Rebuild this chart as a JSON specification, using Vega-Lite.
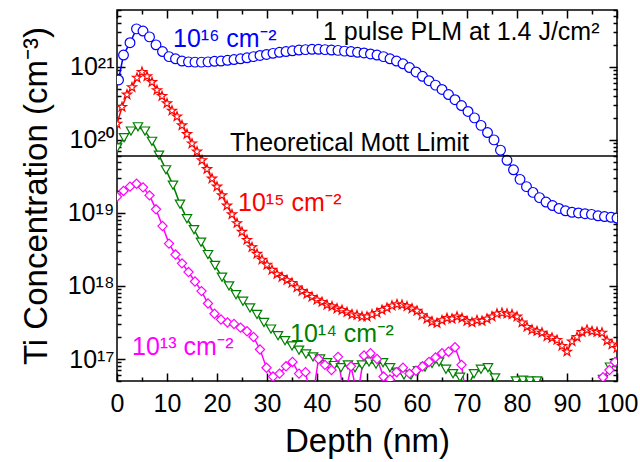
{
"$schema":"https://vega.github.io/schema/vega-lite/v6.json",
"width":500,"height":371,
"autosize":{"type":"none"},
"padding":{"left":117,"top":10,"right":23,"bottom":81},
"background":"white",
"config":{"view":{"stroke":"black","strokeWidth":1.5},"font":"Liberation Sans, Noto Sans",
"axis":{"domain":false,"grid":false,"tickColor":"black","tickWidth":1.5,"labelColor":"black","titleColor":"black","labelFont":"Liberation Sans, Noto Sans","titleFont":"Liberation Sans, Noto Sans","titleFontWeight":"normal","labelOverlap":false}},
"datasets":{
"prof":[
{"dose":"1e16","depth":0.3,"conc":6.61e20},{"dose":"1e16","depth":1.3,"conc":1.45e21},{"dose":"1e16","depth":2.6,"conc":2.14e21},{"dose":"1e16","depth":3.9,"conc":3.31e21},{"dose":"1e16","depth":5.2,"conc":3.09e21},{"dose":"1e16","depth":6.5,"conc":2.57e21},{"dose":"1e16","depth":7.8,"conc":2.00e21},{"dose":"1e16","depth":9.1,"conc":1.62e21},{"dose":"1e16","depth":10.4,"conc":1.38e21},{"dose":"1e16","depth":11.7,"conc":1.29e21},{"dose":"1e16","depth":13,"conc":1.20e21},{"dose":"1e16","depth":14.3,"conc":1.17e21},{"dose":"1e16","depth":15.6,"conc":1.16e21},{"dose":"1e16","depth":16.9,"conc":1.16e21},{"dose":"1e16","depth":18.2,"conc":1.17e21},{"dose":"1e16","depth":19.5,"conc":1.19e21},{"dose":"1e16","depth":20.8,"conc":1.20e21},{"dose":"1e16","depth":22.1,"conc":1.23e21},{"dose":"1e16","depth":23.4,"conc":1.26e21},{"dose":"1e16","depth":24.7,"conc":1.29e21},{"dose":"1e16","depth":26,"conc":1.33e21},{"dose":"1e16","depth":27.3,"conc":1.38e21},{"dose":"1e16","depth":28.6,"conc":1.43e21},{"dose":"1e16","depth":29.9,"conc":1.48e21},{"dose":"1e16","depth":31.2,"conc":1.53e21},{"dose":"1e16","depth":32.5,"conc":1.58e21},{"dose":"1e16","depth":33.8,"conc":1.62e21},{"dose":"1e16","depth":35.1,"conc":1.66e21},{"dose":"1e16","depth":36.4,"conc":1.70e21},{"dose":"1e16","depth":37.7,"conc":1.72e21},{"dose":"1e16","depth":39,"conc":1.74e21},{"dose":"1e16","depth":40.3,"conc":1.74e21},{"dose":"1e16","depth":41.6,"conc":1.72e21},{"dose":"1e16","depth":42.9,"conc":1.70e21},{"dose":"1e16","depth":44.2,"conc":1.68e21},{"dose":"1e16","depth":45.5,"conc":1.64e21},{"dose":"1e16","depth":46.8,"conc":1.62e21},{"dose":"1e16","depth":48.1,"conc":1.58e21},{"dose":"1e16","depth":49.4,"conc":1.55e21},{"dose":"1e16","depth":50.7,"conc":1.50e21},{"dose":"1e16","depth":52,"conc":1.45e21},{"dose":"1e16","depth":53.3,"conc":1.38e21},{"dose":"1e16","depth":54.6,"conc":1.29e21},{"dose":"1e16","depth":55.9,"conc":1.20e21},{"dose":"1e16","depth":57.2,"conc":1.10e21},{"dose":"1e16","depth":58.5,"conc":9.77e20},{"dose":"1e16","depth":59.8,"conc":8.51e20},{"dose":"1e16","depth":61.1,"conc":7.41e20},{"dose":"1e16","depth":62.4,"conc":6.46e20},{"dose":"1e16","depth":63.7,"conc":5.62e20},{"dose":"1e16","depth":65,"conc":4.90e20},{"dose":"1e16","depth":66.3,"conc":4.17e20},{"dose":"1e16","depth":67.6,"conc":3.55e20},{"dose":"1e16","depth":68.9,"conc":2.95e20},{"dose":"1e16","depth":70.2,"conc":2.45e20},{"dose":"1e16","depth":71.5,"conc":2.00e20},{"dose":"1e16","depth":72.8,"conc":1.58e20},{"dose":"1e16","depth":74.1,"conc":1.26e20},{"dose":"1e16","depth":75.4,"conc":1.00e20},{"dose":"1e16","depth":76.7,"conc":7.24e19},{"dose":"1e16","depth":78,"conc":5.25e19},{"dose":"1e16","depth":79.3,"conc":3.89e19},{"dose":"1e16","depth":80.6,"conc":2.88e19},{"dose":"1e16","depth":81.9,"conc":2.29e19},{"dose":"1e16","depth":83.2,"conc":1.91e19},{"dose":"1e16","depth":84.5,"conc":1.62e19},{"dose":"1e16","depth":85.8,"conc":1.41e19},{"dose":"1e16","depth":87.1,"conc":1.26e19},{"dose":"1e16","depth":88.4,"conc":1.15e19},{"dose":"1e16","depth":89.7,"conc":1.07e19},{"dose":"1e16","depth":91,"conc":1.02e19},{"dose":"1e16","depth":92.3,"conc":1.00e19},{"dose":"1e16","depth":93.6,"conc":9.77e18},{"dose":"1e16","depth":94.9,"conc":9.55e18},{"dose":"1e16","depth":96.2,"conc":9.12e18},{"dose":"1e16","depth":97.5,"conc":8.91e18},{"dose":"1e16","depth":98.8,"conc":8.71e18},{"dose":"1e16","depth":100,"conc":8.51e18},
{"dose":"1e15","depth":0,"conc":1.66e20},{"dose":"1e15","depth":1,"conc":2.82e20},{"dose":"1e15","depth":2,"conc":4.17e20},{"dose":"1e15","depth":3,"conc":5.25e20},{"dose":"1e15","depth":4,"conc":7.08e20},{"dose":"1e15","depth":5,"conc":8.51e20},{"dose":"1e15","depth":6,"conc":7.41e20},{"dose":"1e15","depth":7,"conc":6.17e20},{"dose":"1e15","depth":8,"conc":4.79e20},{"dose":"1e15","depth":9,"conc":3.98e20},{"dose":"1e15","depth":10,"conc":3.16e20},{"dose":"1e15","depth":11,"conc":2.51e20},{"dose":"1e15","depth":12,"conc":2.09e20},{"dose":"1e15","depth":13,"conc":1.58e20},{"dose":"1e15","depth":14,"conc":1.20e20},{"dose":"1e15","depth":15,"conc":8.91e19},{"dose":"1e15","depth":16,"conc":6.92e19},{"dose":"1e15","depth":17,"conc":5.25e19},{"dose":"1e15","depth":18,"conc":3.98e19},{"dose":"1e15","depth":19,"conc":2.95e19},{"dose":"1e15","depth":20,"conc":2.29e19},{"dose":"1e15","depth":21,"conc":1.74e19},{"dose":"1e15","depth":22,"conc":1.26e19},{"dose":"1e15","depth":23,"conc":9.55e18},{"dose":"1e15","depth":24,"conc":7.24e18},{"dose":"1e15","depth":25,"conc":5.50e18},{"dose":"1e15","depth":26,"conc":4.27e18},{"dose":"1e15","depth":27,"conc":3.39e18},{"dose":"1e15","depth":28,"conc":2.75e18},{"dose":"1e15","depth":29,"conc":2.29e18},{"dose":"1e15","depth":30,"conc":1.95e18},{"dose":"1e15","depth":31,"conc":1.66e18},{"dose":"1e15","depth":32,"conc":1.45e18},{"dose":"1e15","depth":33,"conc":1.32e18},{"dose":"1e15","depth":34,"conc":1.20e18},{"dose":"1e15","depth":35,"conc":1.10e18},{"dose":"1e15","depth":36,"conc":9.55e17},{"dose":"1e15","depth":37,"conc":8.51e17},{"dose":"1e15","depth":38,"conc":7.76e17},{"dose":"1e15","depth":39,"conc":7.08e17},{"dose":"1e15","depth":40,"conc":6.46e17},{"dose":"1e15","depth":41,"conc":6.03e17},{"dose":"1e15","depth":42,"conc":5.50e17},{"dose":"1e15","depth":43,"conc":5.25e17},{"dose":"1e15","depth":44,"conc":4.90e17},{"dose":"1e15","depth":45,"conc":4.68e17},{"dose":"1e15","depth":46,"conc":4.37e17},{"dose":"1e15","depth":47,"conc":4.07e17},{"dose":"1e15","depth":48,"conc":3.98e17},{"dose":"1e15","depth":49,"conc":3.80e17},{"dose":"1e15","depth":50,"conc":3.80e17},{"dose":"1e15","depth":51,"conc":4.07e17},{"dose":"1e15","depth":52,"conc":4.27e17},{"dose":"1e15","depth":53,"conc":4.68e17},{"dose":"1e15","depth":54,"conc":5.01e17},{"dose":"1e15","depth":55,"conc":5.37e17},{"dose":"1e15","depth":56,"conc":5.62e17},{"dose":"1e15","depth":57,"conc":5.50e17},{"dose":"1e15","depth":58,"conc":5.25e17},{"dose":"1e15","depth":59,"conc":4.90e17},{"dose":"1e15","depth":60,"conc":4.57e17},{"dose":"1e15","depth":61,"conc":3.98e17},{"dose":"1e15","depth":62,"conc":3.55e17},{"dose":"1e15","depth":63,"conc":3.24e17},{"dose":"1e15","depth":64,"conc":3.09e17},{"dose":"1e15","depth":65,"conc":3.39e17},{"dose":"1e15","depth":66,"conc":3.63e17},{"dose":"1e15","depth":67,"conc":3.55e17},{"dose":"1e15","depth":68,"conc":3.80e17},{"dose":"1e15","depth":69,"conc":3.63e17},{"dose":"1e15","depth":70,"conc":3.31e17},{"dose":"1e15","depth":71,"conc":3.16e17},{"dose":"1e15","depth":72,"conc":3.39e17},{"dose":"1e15","depth":73,"conc":3.31e17},{"dose":"1e15","depth":74,"conc":3.55e17},{"dose":"1e15","depth":75,"conc":3.80e17},{"dose":"1e15","depth":76,"conc":4.17e17},{"dose":"1e15","depth":77,"conc":4.27e17},{"dose":"1e15","depth":78,"conc":4.17e17},{"dose":"1e15","depth":79,"conc":4.07e17},{"dose":"1e15","depth":80,"conc":3.80e17},{"dose":"1e15","depth":81,"conc":3.16e17},{"dose":"1e15","depth":82,"conc":2.75e17},{"dose":"1e15","depth":83,"conc":2.51e17},{"dose":"1e15","depth":84,"conc":2.40e17},{"dose":"1e15","depth":85,"conc":2.29e17},{"dose":"1e15","depth":86,"conc":2.04e17},{"dose":"1e15","depth":87,"conc":1.95e17},{"dose":"1e15","depth":88,"conc":1.82e17},{"dose":"1e15","depth":89,"conc":1.51e17},{"dose":"1e15","depth":90,"conc":1.26e17},{"dose":"1e15","depth":91,"conc":1.74e17},{"dose":"1e15","depth":92,"conc":2.00e17},{"dose":"1e15","depth":93,"conc":2.34e17},{"dose":"1e15","depth":94,"conc":2.51e17},{"dose":"1e15","depth":95,"conc":2.40e17},{"dose":"1e15","depth":96,"conc":2.34e17},{"dose":"1e15","depth":97,"conc":2.29e17},{"dose":"1e15","depth":98,"conc":1.78e17},{"dose":"1e15","depth":99,"conc":1.58e17},{"dose":"1e15","depth":100,"conc":1.41e17},
{"dose":"1e14","depth":0,"conc":7.76e19},{"dose":"1e14","depth":1.4,"conc":1.07e20},{"dose":"1e14","depth":2.8,"conc":1.32e20},{"dose":"1e14","depth":4.2,"conc":1.51e20},{"dose":"1e14","depth":5.6,"conc":1.32e20},{"dose":"1e14","depth":7,"conc":9.55e19},{"dose":"1e14","depth":8.4,"conc":6.17e19},{"dose":"1e14","depth":9.8,"conc":3.89e19},{"dose":"1e14","depth":11.2,"conc":2.40e19},{"dose":"1e14","depth":12.6,"conc":1.32e19},{"dose":"1e14","depth":14,"conc":8.32e18},{"dose":"1e14","depth":15.4,"conc":5.89e18},{"dose":"1e14","depth":16.8,"conc":3.98e18},{"dose":"1e14","depth":18.2,"conc":2.69e18},{"dose":"1e14","depth":19.6,"conc":1.91e18},{"dose":"1e14","depth":21,"conc":1.32e18},{"dose":"1e14","depth":22.4,"conc":1.00e18},{"dose":"1e14","depth":23.8,"conc":7.59e17},{"dose":"1e14","depth":25.2,"conc":6.17e17},{"dose":"1e14","depth":26.6,"conc":5.01e17},{"dose":"1e14","depth":28,"conc":4.07e17},{"dose":"1e14","depth":29.4,"conc":3.16e17},{"dose":"1e14","depth":30.8,"conc":2.57e17},{"dose":"1e14","depth":32.2,"conc":2.09e17},{"dose":"1e14","depth":33.6,"conc":1.78e17},{"dose":"1e14","depth":35,"conc":1.51e17},{"dose":"1e14","depth":36.4,"conc":1.32e17},{"dose":"1e14","depth":37.8,"conc":1.17e17},{"dose":"1e14","depth":39.2,"conc":1.07e17},{"dose":"1e14","depth":40.6,"conc":1.00e17},{"dose":"1e14","depth":42,"conc":8.91e16},{"dose":"1e14","depth":43.4,"conc":8.13e16},{"dose":"1e14","depth":44.8,"conc":7.59e16},{"dose":"1e14","depth":46.2,"conc":8.32e16},{"dose":"1e14","depth":47.6,"conc":7.59e16},{"dose":"1e14","depth":49,"conc":8.32e16},{"dose":"1e14","depth":50.4,"conc":9.12e16},{"dose":"1e14","depth":51.8,"conc":8.51e16},{"dose":"1e14","depth":53.2,"conc":8.91e16},{"dose":"1e14","depth":54.6,"conc":7.59e16},{"dose":"1e14","depth":56,"conc":6.61e16},{"dose":"1e14","depth":57.4,"conc":6.03e16},{"dose":"1e14","depth":58.8,"conc":6.03e16},{"dose":"1e14","depth":60.2,"conc":6.92e16},{"dose":"1e14","depth":61.6,"conc":7.76e16},{"dose":"1e14","depth":63,"conc":8.71e16},{"dose":"1e14","depth":64.4,"conc":9.12e16},{"dose":"1e14","depth":65.8,"conc":7.24e16},{"dose":"1e14","depth":67.2,"conc":6.31e16},{"dose":"1e14","depth":68.6,"conc":5.62e16},{"dose":"1e14","depth":70,"conc":3.98e16},{"dose":"1e14","depth":71.4,"conc":6.31e16},{"dose":"1e14","depth":72.8,"conc":7.24e16},{"dose":"1e14","depth":74.2,"conc":7.59e16},{"dose":"1e14","depth":75.6,"conc":5.50e16},{"dose":"1e14","depth":77,"conc":3.55e16},{"dose":"1e14","depth":78.4,"conc":4.17e16},{"dose":"1e14","depth":79.8,"conc":5.01e16},{"dose":"1e14","depth":81.2,"conc":5.13e16},{"dose":"1e14","depth":82.6,"conc":5.01e16},{"dose":"1e14","depth":84,"conc":5.01e16},{"dose":"1e14","depth":85.4,"conc":3.98e16},{"dose":"1e14","depth":86.8,"conc":3.16e16},{"dose":"1e14","depth":90,"conc":2.82e16},{"dose":"1e14","depth":94,"conc":2.82e16},{"dose":"1e14","depth":97.2,"conc":5.25e16},{"dose":"1e14","depth":98.6,"conc":7.76e16},{"dose":"1e14","depth":100,"conc":8.91e16},
{"dose":"1e13","depth":0,"conc":1.66e19},{"dose":"1e13","depth":1.3,"conc":2.00e19},{"dose":"1e13","depth":2.6,"conc":2.29e19},{"dose":"1e13","depth":3.9,"conc":2.51e19},{"dose":"1e13","depth":5.2,"conc":2.24e19},{"dose":"1e13","depth":6.5,"conc":1.74e19},{"dose":"1e13","depth":7.8,"conc":1.12e19},{"dose":"1e13","depth":9.1,"conc":6.61e18},{"dose":"1e13","depth":10.4,"conc":3.80e18},{"dose":"1e13","depth":11.7,"conc":2.69e18},{"dose":"1e13","depth":13,"conc":2.04e18},{"dose":"1e13","depth":14.3,"conc":1.55e18},{"dose":"1e13","depth":15.6,"conc":1.15e18},{"dose":"1e13","depth":16.9,"conc":8.51e17},{"dose":"1e13","depth":18.2,"conc":5.75e17},{"dose":"1e13","depth":19.5,"conc":4.17e17},{"dose":"1e13","depth":20.8,"conc":3.47e17},{"dose":"1e13","depth":22.1,"conc":3.16e17},{"dose":"1e13","depth":23.4,"conc":3.02e17},{"dose":"1e13","depth":24.7,"conc":2.69e17},{"dose":"1e13","depth":26,"conc":2.40e17},{"dose":"1e13","depth":27.3,"conc":2.00e17},{"dose":"1e13","depth":28.6,"conc":1.35e17},{"dose":"1e13","depth":29.9,"conc":7.59e16},{"dose":"1e13","depth":31.2,"conc":5.75e16},{"dose":"1e13","depth":32.5,"conc":6.31e16},{"dose":"1e13","depth":33.8,"conc":7.94e16},{"dose":"1e13","depth":35.1,"conc":9.12e16},{"dose":"1e13","depth":36.4,"conc":6.31e16},{"dose":"1e13","depth":37.7,"conc":6.61e16},{"dose":"1e13","depth":39,"conc":2.51e16},{"dose":"1e13","depth":40.3,"conc":1.00e17},{"dose":"1e13","depth":41.6,"conc":8.32e16},{"dose":"1e13","depth":42.9,"conc":7.08e16},{"dose":"1e13","depth":44.2,"conc":1.07e17},{"dose":"1e13","depth":45.5,"conc":2.82e16},{"dose":"1e13","depth":46.8,"conc":7.94e16},{"dose":"1e13","depth":48.1,"conc":3.16e16},{"dose":"1e13","depth":49.4,"conc":1.12e17},{"dose":"1e13","depth":50.7,"conc":1.20e17},{"dose":"1e13","depth":52,"conc":1.00e17},{"dose":"1e13","depth":53.3,"conc":5.75e16},{"dose":"1e13","depth":54.6,"conc":5.25e16},{"dose":"1e13","depth":55.9,"conc":6.61e16},{"dose":"1e13","depth":57.2,"conc":7.59e16},{"dose":"1e13","depth":58.5,"conc":6.31e16},{"dose":"1e13","depth":59.8,"conc":6.92e16},{"dose":"1e13","depth":61.1,"conc":7.94e16},{"dose":"1e13","depth":62.4,"conc":9.12e16},{"dose":"1e13","depth":63.7,"conc":1.05e17},{"dose":"1e13","depth":65,"conc":1.20e17},{"dose":"1e13","depth":66.3,"conc":1.26e17},{"dose":"1e13","depth":67.6,"conc":1.45e17},{"dose":"1e13","depth":68.9,"conc":8.32e16},{"dose":"1e13","depth":70.2,"conc":2.00e16},{"dose":"1e13","depth":80,"conc":2.00e16},{"dose":"1e13","depth":90,"conc":2.00e16},{"dose":"1e13","depth":96,"conc":2.51e16},{"dose":"1e13","depth":97.2,"conc":5.62e16},{"dose":"1e13","depth":98.5,"conc":7.08e16},{"dose":"1e13","depth":99.6,"conc":9.12e16}
],
"notes":[
{"dose":"1e16","depth":11.2,"conc":1.88e21,"label":"10¹⁶ cm⁻²"},
{"dose":"note","depth":41.2,"conc":2.34e21,"label":"1 pulse PLM at 1.4 J/cm²"},
{"dose":"note","depth":22.6,"conc":7.08e19,"label":"Theoretical Mott Limit"},
{"dose":"1e15","depth":24.2,"conc":1.06e19,"label":"10¹⁵ cm⁻²"},
{"dose":"1e14","depth":34.6,"conc":1.71e17,"label":"10¹⁴ cm⁻²"},
{"dose":"1e13","depth":3,"conc":1.14e17,"label":"10¹³ cm⁻²"}
],
"mott":[{"conc":6.0e19}]
},
"layer":[
{"data":{"name":"prof"},
"mark":{"type":"line","strokeWidth":1.5,"clip":true},
"encoding":{
"x":{"field":"depth","type":"quantitative","scale":{"domain":[0,100],"nice":false,"zero":false},
"axis":{"orient":"bottom","title":"Depth (nm)","values":[0,5,10,15,20,25,30,35,40,45,50,55,60,65,70,75,80,85,90,95,100],"labelExpr":"datum.value % 10 == 0 ? datum.label : ''","tickSize":{"condition":{"test":"datum.value % 10 == 0","value":-8},"value":-4},"labelPadding":18,"labelFontSize":25,"labelBaseline":"top","labelFlush":false,"titleFontSize":33,"titlePadding":5}},
"y":{"field":"conc","type":"quantitative","scale":{"type":"log","domain":[5e16,6e21],"nice":false},
"axis":{"orient":"left","title":"Ti Concentration (cm⁻³)","values":[5e16,6e16,7e16,8e16,9e16,1e17,2e17,3e17,4e17,5e17,6e17,7e17,8e17,9e17,1e18,2e18,3e18,4e18,5e18,6e18,7e18,8e18,9e18,1e19,2e19,3e19,4e19,5e19,6e19,7e19,8e19,9e19,1e20,2e20,3e20,4e20,5e20,6e20,7e20,8e20,9e20,1e21,2e21,3e21,4e21,5e21,6e21],
"labelExpr":"abs(log(datum.value)/LN10 - round(log(datum.value)/LN10)) < 0.001 ? (round(log(datum.value)/LN10) == 17 ? '10¹⁷' : round(log(datum.value)/LN10) == 18 ? '10¹⁸' : round(log(datum.value)/LN10) == 19 ? '10¹⁹' : round(log(datum.value)/LN10) == 20 ? '10²⁰' : '10²¹') : ''",
"tickSize":{"condition":{"test":"abs(log(datum.value)/LN10 - round(log(datum.value)/LN10)) < 0.001","value":-8},"value":-4},"labelPadding":11,"labelFontSize":25,"titleFontSize":33,"titlePadding":14}},
"color":{"field":"dose","type":"nominal","scale":{"domain":["1e16","1e15","1e14","1e13","note"],"range":["#0000ff","#ff0000","#008000","#ff00ff","#000000"]},"legend":null}
}},
{"data":{"name":"prof"},
"mark":{"type":"point","filled":false,"fill":"white","fillOpacity":1,"strokeWidth":1.2,"opacity":1,"clip":true},
"encoding":{
"x":{"field":"depth","type":"quantitative","axis":{"orient":"top","labels":false,"title":null,"values":[0,5,10,15,20,25,30,35,40,45,50,55,60,65,70,75,80,85,90,95,100],"tickSize":{"condition":{"test":"datum.value % 10 == 0","value":-8},"value":-4}}},
"y":{"field":"conc","type":"quantitative","axis":{"orient":"right","labels":false,"title":null,"values":[5e16,6e16,7e16,8e16,9e16,1e17,2e17,3e17,4e17,5e17,6e17,7e17,8e17,9e17,1e18,2e18,3e18,4e18,5e18,6e18,7e18,8e18,9e18,1e19,2e19,3e19,4e19,5e19,6e19,7e19,8e19,9e19,1e20,2e20,3e20,4e20,5e20,6e20,7e20,8e20,9e20,1e21,2e21,3e21,4e21,5e21,6e21],"tickSize":{"condition":{"test":"abs(log(datum.value)/LN10 - round(log(datum.value)/LN10)) < 0.001","value":-8},"value":-4}}},
"color":{"field":"dose","type":"nominal","legend":null},
"shape":{"field":"dose","type":"nominal","scale":{"domain":["1e16","1e15","1e14","1e13"],"range":["circle","M0,-1L0.235,-0.324L0.951,-0.309L0.38,0.124L0.588,0.809L0,0.4L-0.588,0.809L-0.38,0.124L-0.951,-0.309L-0.235,-0.324Z","triangle-down","diamond"]},"legend":null},
"size":{"field":"dose","type":"nominal","scale":{"domain":["1e16","1e15","1e14","1e13"],"range":[95,85,120,110]},"legend":null}
}},
{"data":{"name":"mott"},
"mark":{"type":"rule","strokeWidth":1.5,"color":"black"},
"encoding":{"y":{"field":"conc","type":"quantitative","axis":null}}},
{"data":{"name":"notes"},
"mark":{"type":"text","align":"left","baseline":"alphabetic","fontSize":25,"font":"Liberation Sans, Noto Sans"},
"encoding":{
"x":{"field":"depth","type":"quantitative","axis":null},
"y":{"field":"conc","type":"quantitative","axis":null},
"text":{"field":"label"},
"color":{"field":"dose","type":"nominal","legend":null}
}}
],
"resolve":{"axis":{"x":"independent","y":"independent"}}
}
